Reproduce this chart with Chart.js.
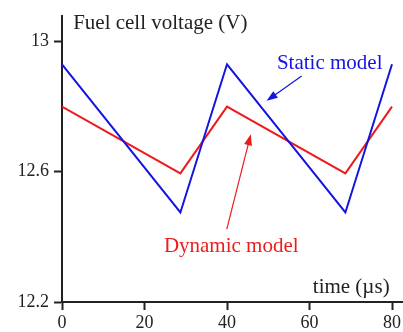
<!DOCTYPE html>
<html>
<head>
<meta charset="utf-8">
<script src="https://cdn.jsdelivr.net/npm/chart.js@4/dist/chart.umd.min.js"></script>
<style>
  html, body { margin: 0; padding: 0; background: #fff; }
  #wrap { width: 403px; height: 332px; }
</style>
</head>
<body>
<div id="wrap"><canvas id="fcChart" width="403" height="332"></canvas></div>
<script>
// data
const timeUs = [0, 28.7, 40, 68.7, 80];
const staticV = [12.93, 12.475, 12.93, 12.475, 12.93];
const dynamicV = [12.80, 12.595, 12.80, 12.595, 12.80];
const xTicks = [0, 20, 40, 60, 80];
const yTicks = [12.2, 12.6, 13];

const BLUE = '#1414e0';
const RED = '#ec1c1c';
const INK = '#222';
const SERIF = '"Liberation Serif", "DejaVu Serif", serif';

function pts(ys) {
    return timeUs.map((t, i) => ({ x: t, y: ys[i] }));
}

// labels and arrows drawn on top, anchored in data units
const notes = {
    id: 'notes',
    afterDatasetsDraw(chart) {
        const c = chart.ctx;
        const sx = chart.scales.x, sy = chart.scales.y;
        const X = v => sx.getPixelForValue(v);
        const Y = v => sy.getPixelForValue(v);

        function text(str, x, y, color) {
            c.save();
            c.font = '21px ' + SERIF;
            c.fillStyle = color;
            c.textAlign = 'left';
            c.textBaseline = 'alphabetic';
            c.fillText(str, X(x), Y(y));
            c.restore();
        }

        function arrow(x0, y0, x1, y1, color) {
            const ax = X(x0), ay = Y(y0), bx = X(x1), by = Y(y1);
            const ang = Math.atan2(by - ay, bx - ax);
            const len = 11, half = 4;
            c.save();
            c.strokeStyle = color;
            c.fillStyle = color;
            c.lineWidth = 1.2;
            c.beginPath();
            c.moveTo(ax, ay);
            c.lineTo(bx - Math.cos(ang) * len * 0.8, by - Math.sin(ang) * len * 0.8);
            c.stroke();
            c.beginPath();
            c.moveTo(bx, by);
            c.lineTo(bx - Math.cos(ang) * len + Math.sin(ang) * half,
                     by - Math.sin(ang) * len - Math.cos(ang) * half);
            c.lineTo(bx - Math.cos(ang) * len - Math.sin(ang) * half,
                     by - Math.sin(ang) * len + Math.cos(ang) * half);
            c.closePath();
            c.fill();
            c.restore();
        }

        text('Fuel cell voltage (V)', 2.7, 13.039, INK);
        text('Static model', 52.1, 12.917, BLUE);
        arrow(58.1, 12.894, 49.6, 12.818, BLUE);
        text('Dynamic model', 24.7, 12.355, RED);
        arrow(39.95, 12.424, 45.76, 12.715, RED);
        text('time (\u00b5s)', 60.8, 12.227, INK);
    }
};

new Chart(document.getElementById('fcChart'), {
    type: 'line',
    data: {
        datasets: [
            {
                label: 'Static model',
                data: pts(staticV),
                borderColor: BLUE,
                borderWidth: 2,
                pointRadius: 0,
                tension: 0,
                fill: false
            },
            {
                label: 'Dynamic model',
                data: pts(dynamicV),
                borderColor: RED,
                borderWidth: 2,
                pointRadius: 0,
                tension: 0,
                fill: false
            }
        ]
    },
    options: {
        responsive: false,
        animation: false,
        layout: { padding: { top: 12, right: 0, bottom: 0, left: 0 } },
        plugins: {
            legend: { display: false },
            tooltip: { enabled: false }
        },
        scales: {
            x: {
                type: 'linear',
                min: 0,
                max: 82.6,
                afterBuildTicks: axis => { axis.ticks = xTicks.map(v => ({ value: v })); },
                afterFit: axis => { axis.height = 30; },
                grid: {
                    drawOnChartArea: false,
                    drawTicks: true,
                    tickLength: 8,
                    tickWidth: 2,
                    tickColor: INK
                },
                border: { display: true, color: INK, width: 2 },
                ticks: {
                    font: { family: SERIF, size: 18 },
                    color: INK,
                    padding: 2,
                    maxRotation: 0,
                    autoSkip: false,
                    callback: v => String(v)
                }
            },
            y: {
                type: 'linear',
                min: 12.2,
                max: 13.079,
                afterBuildTicks: axis => { axis.ticks = yTicks.map(v => ({ value: v })); },
                afterFit: axis => { axis.width = 62; },
                grid: {
                    drawOnChartArea: false,
                    drawTicks: true,
                    tickLength: 8,
                    tickWidth: 2,
                    tickColor: INK
                },
                border: { display: true, color: INK, width: 2 },
                ticks: {
                    font: { family: SERIF, size: 18 },
                    color: INK,
                    padding: 5,
                    autoSkip: false,
                    callback: v => String(v)
                }
            }
        }
    },
    plugins: [notes]
});
</script>
</body>
</html>
